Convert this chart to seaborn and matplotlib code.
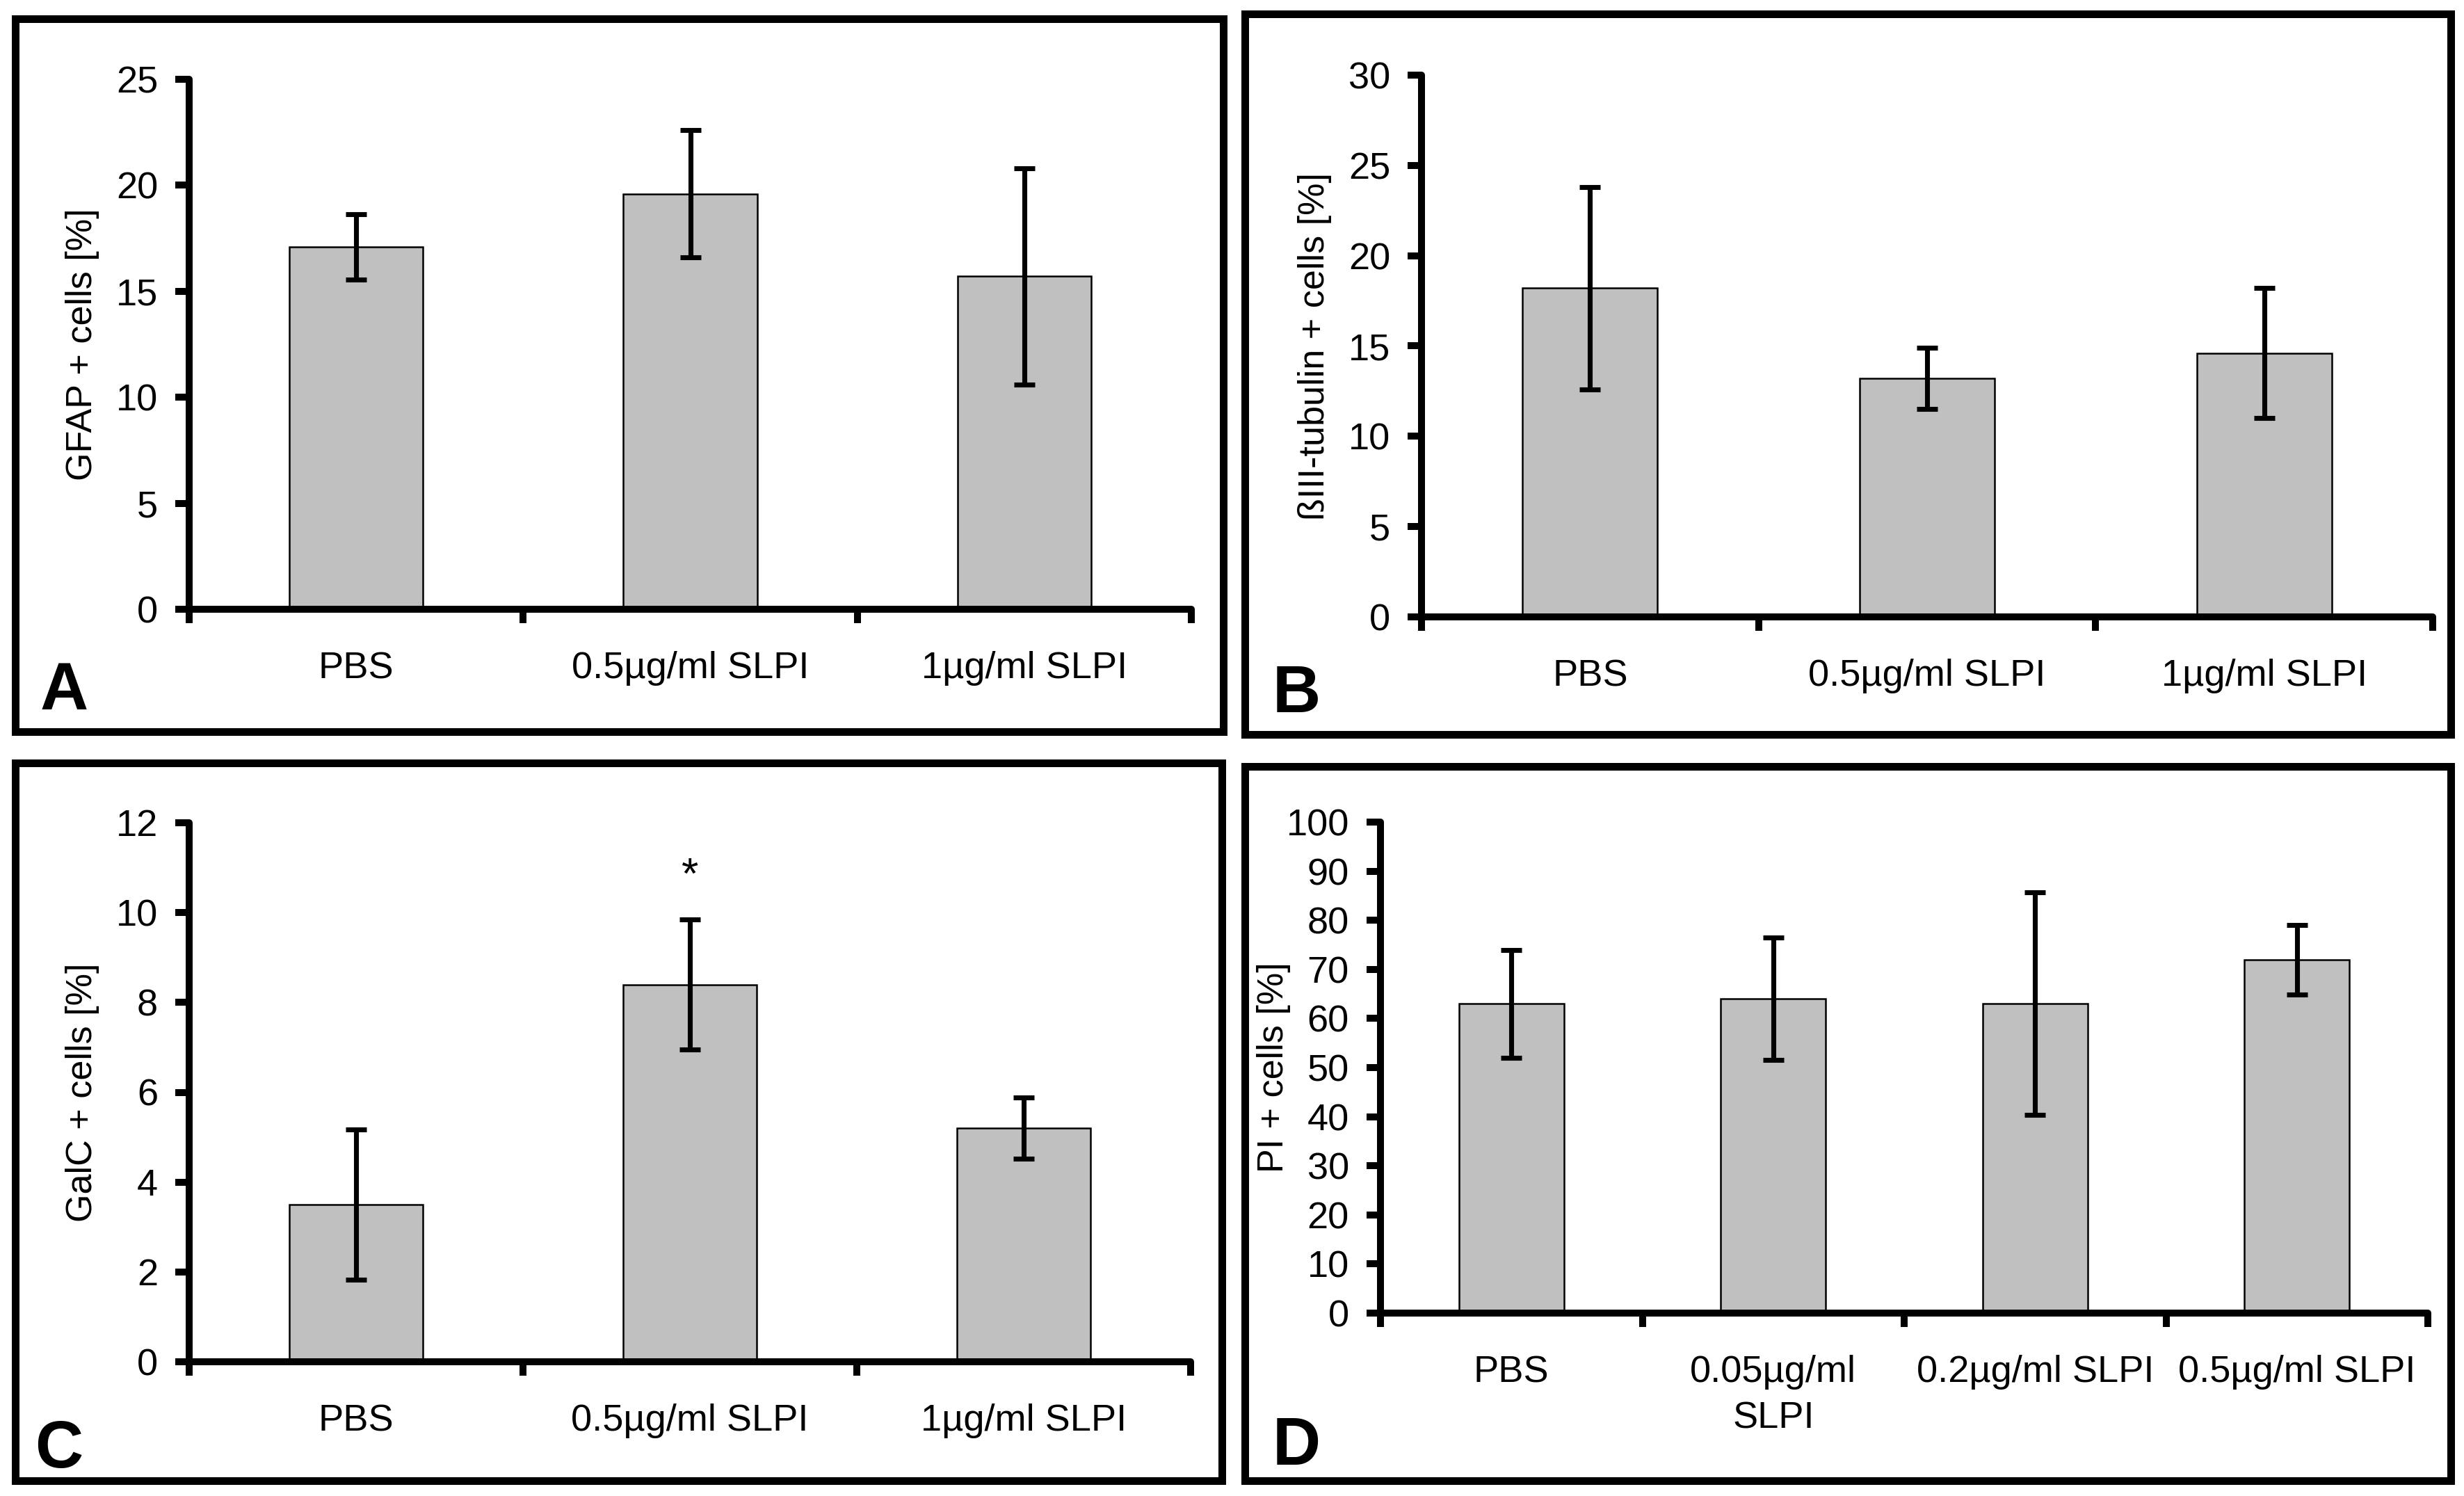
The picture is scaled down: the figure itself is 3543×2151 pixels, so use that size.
import numpy as np
import pandas as pd
import seaborn as sns
import matplotlib.pyplot as plt
from matplotlib.patches import Rectangle

sns.set_style("white")
plt.rcParams['font.family'] = ['Liberation Sans', 'DejaVu Sans']
plt.rcParams['text.color'] = 'black'
plt.rcParams['axes.labelcolor'] = 'black'
plt.rcParams['xtick.color'] = 'black'
plt.rcParams['ytick.color'] = 'black'

W, H = 3543, 2151

# panel A - GFAP
groups_abc = ["PBS", "0.5µg/ml SLPI", "1µg/ml SLPI"]
gfap_mean = [17.1, 19.6, 15.7]
gfap_sd = [1.55, 3.0, 5.1]

# panel B - bIII-tubulin
tub_mean = [18.2, 13.2, 14.6]
tub_sd = [5.6, 1.7, 3.6]

# panel C - GalC
galc_mean = [3.5, 8.4, 5.2]
galc_sd = [1.67, 1.45, 0.68]

# panel D - PI
groups_d = ["PBS", "0.05µg/ml\nSLPI", "0.2µg/ml SLPI", "0.5µg/ml SLPI"]
pi_mean = [63.0, 64.0, 63.0, 72.0]
pi_sd = [11.0, 12.5, 22.7, 7.1]

fig = plt.figure(figsize=(W / 300, H / 300), dpi=300)


def px_axes(x0, x1, ytop, ybot):
    return fig.add_axes([x0 / W, 1 - ybot / H, (x1 - x0) / W, (ybot - ytop) / H])


def panel(ax, cats, means, sds, ymax, step, ylabel, width_px):
    df = pd.DataFrame({"group": cats, "value": means})
    sns.barplot(data=df, x="group", y="value", order=cats, color="#C0C0C0",
                saturation=1, edgecolor="black", linewidth=0.6, width=0.4,
                errorbar=None, ax=ax)
    ax.errorbar(x=np.arange(len(cats)), y=means, yerr=sds, fmt="none",
                ecolor="black", elinewidth=1.7, capsize=3.6, capthick=1.7, zorder=3)
    n = len(cats)
    ax.set_xlim(-0.5, n - 0.5)
    ax.set_ylim(0, ymax)
    ax.set_yticks(np.arange(0, ymax + step / 2, step))
    ax.set_xticks(np.arange(-0.5, n, 1.0), minor=True)
    for s in ["top", "right"]:
        ax.spines[s].set_visible(False)
    for s in ["left", "bottom"]:
        ax.spines[s].set_linewidth(2.4)
        ax.spines[s].set_color("black")
        ax.spines[s].set_capstyle("round")
    ax.tick_params(axis="y", which="major", direction="out", length=4.8, width=2.4,
                   pad=6, labelsize=13, left=True, color="black")
    ax.tick_params(axis="x", which="major", length=0, pad=14.5, labelsize=13)
    ax.tick_params(axis="x", which="minor", direction="out", length=4.8, width=2.4,
                   bottom=True, color="black")
    ax.set_xlabel("")
    ax.set_ylabel(ylabel, fontsize=12.5)
    ax.yaxis.set_label_coords(-129 / width_px, 0.5)
    for lab in ax.get_xticklabels():
        lab.set_linespacing(1.4)


axA = px_axes(272, 1713, 114, 876)
panel(axA, groups_abc, gfap_mean, gfap_sd, 25, 5, "GFAP + cells [%]", 1713 - 272)

axB = px_axes(2044, 3498, 108, 887)
panel(axB, groups_abc, tub_mean, tub_sd, 30, 5, "ßIII-tubulin + cells [%]", 3498 - 2044)

axC = px_axes(272, 1712, 1183, 1958)
panel(axC, groups_abc, galc_mean, galc_sd, 12, 2, "GalC + cells [%]", 1712 - 272)
axC.text(1, 10.55, "*", ha="center", va="baseline", fontsize=15)

axD = px_axes(1985, 3491, 1182, 1888)
panel(axD, groups_d, pi_mean, pi_sd, 100, 10, "PI + cells [%]", 3491 - 1985)

# panel frames
frames = [(21.5, 1758.5, 26.5, 1051.5), (1789.5, 3523.5, 19.5, 1055.5),
          (21.5, 1756.5, 1096.5, 2128.5), (1789.5, 3523.5, 1101.5, 2128.5)]
for x0, x1, y0, y1 in frames:
    fig.add_artist(Rectangle((x0 / W, 1 - y1 / H), (x1 - x0) / W, (y1 - y0) / H,
                             transform=fig.transFigure, fill=False,
                             linewidth=2.64, edgecolor="black"))

letters = [("A", 58, 1020), ("B", 1830, 1024), ("C", 50, 2110), ("D", 1830, 2106)]
for t, x, y in letters:
    fig.text(x / W, 1 - y / H, t, fontsize=23, fontweight="bold",
             ha="left", va="baseline")

fig.savefig("out.png", dpi=300)
